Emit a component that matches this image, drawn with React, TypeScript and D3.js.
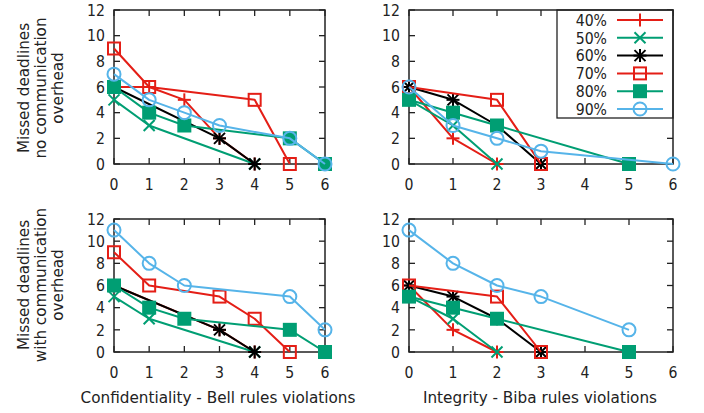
import * as d3 from 'd3';
import { useEffect, useRef } from 'react';

const xTicks = [0, 1, 2, 3, 4, 5, 6];
const yTicks = [0, 2, 4, 6, 8, 10, 12];
const seriesLabels = ['40%', '50%', '60%', '70%', '80%', '90%'];
const seriesColors = ['#e41e16', '#009e73', '#000000', '#e41e16', '#009e73', '#56b4e9'];
const seriesMarkers = ['plus', 'cross', 'star', 'square', 'filledSquare', 'circle'];

// [violations, missed deadlines] per series, 40% .. 90%
const bellNoComm = [
  [[0, 6], [1, 6], [2, 5], [3, 2], [4, 0]],
  [[0, 5], [1, 3], [4, 0]],
  [[0, 6], [3, 2], [4, 0]],
  [[0, 9], [1, 6], [4, 5], [5, 0]],
  [[0, 6], [1, 4], [2, 3], [5, 2], [6, 0]],
  [[0, 7], [1, 5], [2, 4], [3, 3], [5, 2], [6, 0]],
];
const bibaNoComm = [
  [[0, 6], [1, 2], [2, 0]],
  [[0, 5], [1, 3], [2, 0]],
  [[0, 6], [1, 5], [2, 3], [3, 0]],
  [[0, 6], [2, 5], [3, 0]],
  [[0, 5], [1, 4], [2, 3], [5, 0]],
  [[0, 6], [1, 3], [2, 2], [3, 1], [6, 0]],
];
const bellComm = [
  [[0, 6], [3, 2], [4, 0]],
  [[0, 5], [1, 3], [4, 0]],
  [[0, 6], [3, 2], [4, 0]],
  [[0, 9], [1, 6], [3, 5], [4, 3], [5, 0]],
  [[0, 6], [1, 4], [2, 3], [5, 2], [6, 0]],
  [[0, 11], [1, 8], [2, 6], [5, 5], [6, 2]],
];
const bibaComm = [
  [[0, 6], [1, 2], [2, 0]],
  [[0, 5], [1, 3], [2, 0]],
  [[0, 6], [1, 5], [2, 3], [3, 0]],
  [[0, 6], [2, 5], [3, 0]],
  [[0, 5], [1, 4], [2, 3], [5, 0]],
  [[0, 11], [1, 8], [2, 6], [3, 5], [5, 2]],
];

const FONT = 'DejaVu Sans, sans-serif';
const INK = '#222';

// text with a slight horizontal squeeze, like the gnuplot output
const addText = (parent, x, y, str, size, anchor, squeeze = 0.9, rotate = 0) =>
  parent.append('text')
    .attr('transform', `translate(${x},${y}) rotate(${rotate}) scale(${squeeze},1)`)
    .attr('dy', '0.36em').attr('text-anchor', anchor)
    .attr('font-family', FONT).attr('font-size', size).attr('fill', INK)
    .text(str);

const drawMarker = (g, kind, cx, cy, color) => {
  const m = g.append('g').attr('transform', `translate(${cx},${cy})`);
  const line = (x1, y1, x2, y2) =>
    m.append('line').attr('x1', x1).attr('y1', y1).attr('x2', x2).attr('y2', y2)
      .attr('stroke', color).attr('stroke-width', 2);
  if (kind === 'plus' || kind === 'star') {
    line(-6.5, 0, 6.5, 0);
    line(0, -6.5, 0, 6.5);
  }
  if (kind === 'cross' || kind === 'star') {
    line(-5.5, -5.5, 5.5, 5.5);
    line(-5.5, 5.5, 5.5, -5.5);
  }
  if (kind === 'square') {
    m.append('rect').attr('x', -6).attr('y', -6).attr('width', 12).attr('height', 12)
      .attr('fill', 'none').attr('stroke', color).attr('stroke-width', 2);
  }
  if (kind === 'filledSquare') {
    m.append('rect').attr('x', -7).attr('y', -7).attr('width', 14).attr('height', 14)
      .attr('fill', color);
  }
  if (kind === 'circle') {
    m.append('circle').attr('r', 6.5).attr('fill', 'none')
      .attr('stroke', color).attr('stroke-width', 2);
  }
};

const App = () => {
  const svgRef = useRef(null);

  useEffect(() => {
    const svg = d3.select(svgRef.current);
    svg.selectAll('*').remove();

    const panels = [
      { data: bellNoComm, left: 114, right: 325, top: 10, bottom: 164 },
      { data: bibaNoComm, left: 409, right: 673, top: 10, bottom: 164, legend: true },
      { data: bellComm, left: 114, right: 325, top: 219, bottom: 352 },
      { data: bibaComm, left: 409, right: 673, top: 219, bottom: 352 },
    ];

    panels.forEach(p => {
      const x = d3.scaleLinear().domain([0, 6]).range([p.left, p.right]);
      const y = d3.scaleLinear().domain([0, 12]).range([p.bottom, p.top]);
      const g = svg.append('g');

      // ticks (inward, mirrored)
      yTicks.forEach(t => {
        g.append('line').attr('x1', p.left).attr('x2', p.left + 6).attr('y1', y(t)).attr('y2', y(t))
          .attr('stroke', INK).attr('stroke-width', 1.3);
        g.append('line').attr('x1', p.right).attr('x2', p.right - 6).attr('y1', y(t)).attr('y2', y(t))
          .attr('stroke', INK).attr('stroke-width', 1.3);
        addText(g, p.left - 9, y(t), t, 16, 'end', 0.88);
      });
      xTicks.forEach(t => {
        g.append('line').attr('x1', x(t)).attr('x2', x(t)).attr('y1', p.bottom).attr('y2', p.bottom - 6)
          .attr('stroke', INK).attr('stroke-width', 1.3);
        g.append('line').attr('x1', x(t)).attr('x2', x(t)).attr('y1', p.top).attr('y2', p.top + 6)
          .attr('stroke', INK).attr('stroke-width', 1.3);
        addText(g, x(t), p.bottom + 20, t, 16, 'middle', 0.88);
      });

      if (p.legend) {
        const lx = 557, ly = p.top, lw = p.right - 557, lh = 108;
        g.append('rect').attr('x', lx).attr('y', ly).attr('width', lw).attr('height', lh)
          .attr('fill', 'white').attr('stroke', INK).attr('stroke-width', 1.3);
        seriesLabels.forEach((lab, i) => {
          const ry = ly + 10 + i * 17.8;
          addText(g, 607, ry, lab, 16, 'end', 0.88);
          g.append('line').attr('x1', 617).attr('x2', 663).attr('y1', ry).attr('y2', ry)
            .attr('stroke', seriesColors[i]).attr('stroke-width', 2);
          drawMarker(g, seriesMarkers[i], 640, ry, seriesColors[i]);
        });
      }

      g.append('rect').attr('x', p.left).attr('y', p.top)
        .attr('width', p.right - p.left).attr('height', p.bottom - p.top)
        .attr('fill', 'none').attr('stroke', INK).attr('stroke-width', 1.5);

      const lineGen = d3.line().x(d => x(d[0])).y(d => y(d[1]));
      p.data.forEach((series, i) => {
        g.append('path').attr('d', lineGen(series)).attr('fill', 'none')
          .attr('stroke', seriesColors[i]).attr('stroke-width', 2)
          .attr('stroke-linejoin', 'round');
        series.forEach(d => drawMarker(g, seriesMarkers[i], x(d[0]), y(d[1]), seriesColors[i]));
      });
    });

    // y-axis titles
    const yTitles = [
      { cy: 88, lines: ['Missed deadlines', 'no communication', 'overhead'] },
      { cy: 285, lines: ['Missed deadlines', 'with communication', 'overhead'] },
    ];
    yTitles.forEach(t => {
      t.lines.forEach((s, i) => addText(svg, 23 + i * 17, t.cy, s, 16.5, 'middle', 0.92, -90));
    });

    addText(svg, 218, 397, 'Confidentiality - Bell rules violations', 16.5, 'middle', 0.925);
    addText(svg, 540, 397, 'Integrity - Biba rules violations', 16.5, 'middle', 0.925);
  }, []);

  return (
    <svg ref={svgRef} width={704} height={413}
      style={{ position: 'absolute', left: 0, top: 0, background: 'white' }}></svg>
  );
};

export default App;
